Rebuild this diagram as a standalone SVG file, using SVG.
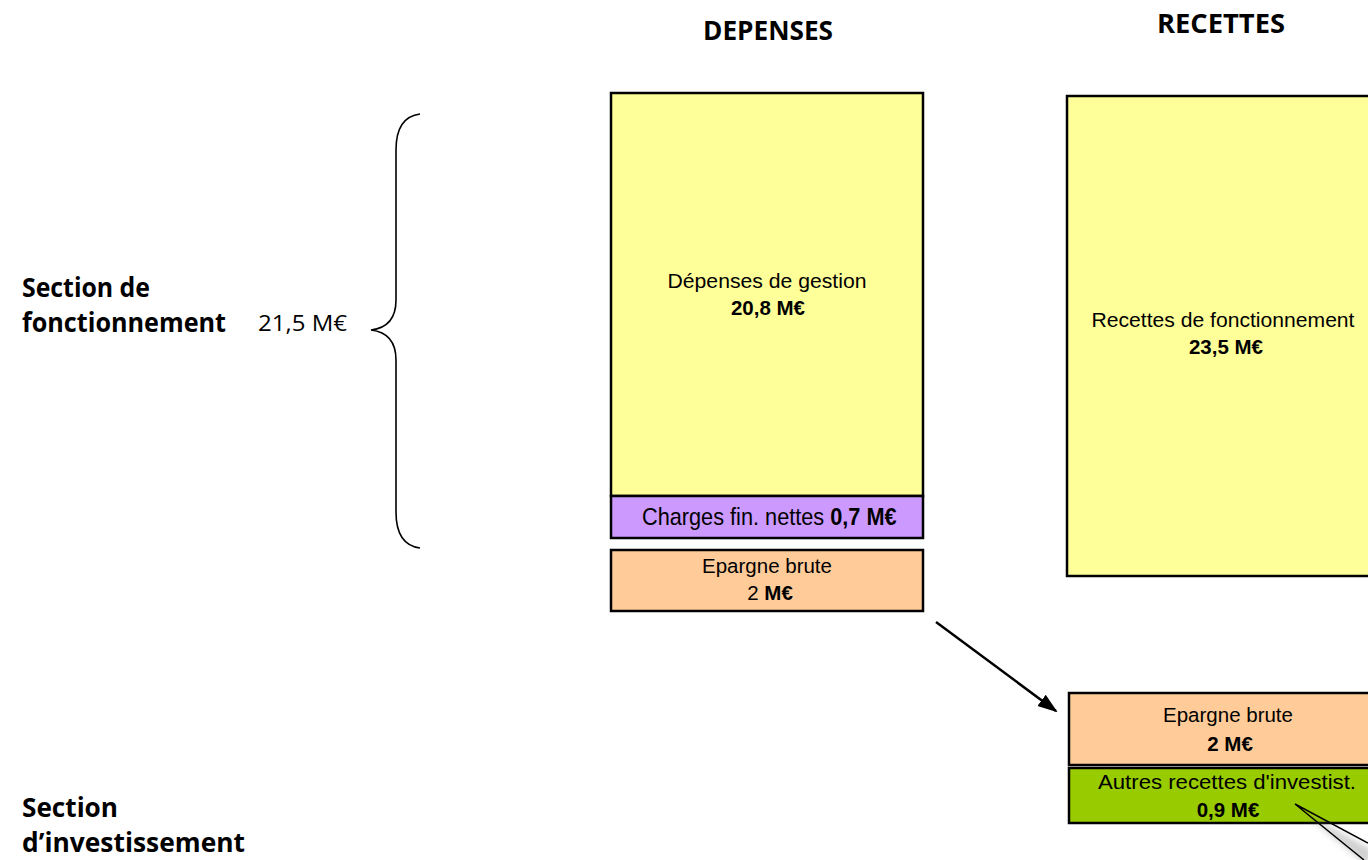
<svg xmlns="http://www.w3.org/2000/svg" width="1368" height="860" viewBox="0 0 1368 860">
<style>
.hd{font-family:"Open Sans","Liberation Sans",sans-serif;font-weight:bold;font-size:27px;fill:#000;text-anchor:middle}
.sec{font-family:"Open Sans","Liberation Sans",sans-serif;font-weight:bold;font-size:26px;fill:#000}
.box{stroke:#000;stroke-width:2.5}
.t{font-family:"Liberation Sans",Arial,sans-serif;font-size:20.5px;fill:#000;text-anchor:middle}
.ts{font-family:"Liberation Sans",Arial,sans-serif;font-size:24px;fill:#000}
.b{font-weight:bold}
.ln{stroke:#000;stroke-width:2.5;fill:none}
</style>
<defs>
<marker id="ah" markerWidth="20" markerHeight="16" refX="18" refY="7" orient="auto" markerUnits="userSpaceOnUse" viewBox="0 0 20 14">
<path d="M0,0 L20,7 L0,14 z" fill="#000"/>
</marker>
<filter id="sh" x="-30%" y="-30%" width="160%" height="160%"><feGaussianBlur stdDeviation="3"/></filter>
</defs>
<rect width="1368" height="860" fill="#fff"/>
<g id="headers">
<text class="hd" x="768" y="40" textLength="130" lengthAdjust="spacingAndGlyphs">DEPENSES</text>
<text class="hd" x="1221" y="33" textLength="128" lengthAdjust="spacingAndGlyphs">RECETTES</text>
</g>
<g id="section-fonctionnement">
<text class="sec" x="22" y="297" textLength="128" lengthAdjust="spacingAndGlyphs">Section de</text>
<text class="sec" x="22" y="332" textLength="204" lengthAdjust="spacingAndGlyphs">fonctionnement</text>
<text x="258" y="331" textLength="89" lengthAdjust="spacingAndGlyphs" style="font-family:'Open Sans','Liberation Sans',sans-serif;font-size:22px;fill:#000">21,5 M€</text>
<path d="M420,114 C404,116 396,128 396,150 L396,300 C396,318 388,328 371,330 C388,332 396,342 396,360 L396,512 C396,534 404,546 420,548" fill="none" stroke="#000" stroke-width="1.6"/>
</g>
<g id="section-investissement">
<text class="sec" x="22" y="817" textLength="96" lengthAdjust="spacingAndGlyphs">Section</text>
<text class="sec" x="22" y="852" textLength="223" lengthAdjust="spacingAndGlyphs">d’investissement</text>
</g>
<g id="depenses-gestion">
<rect class="box" x="611" y="93" width="312" height="403" fill="#FFFF99"/>
<text class="t" x="767" y="288" textLength="199" lengthAdjust="spacingAndGlyphs">Dépenses de gestion</text>
<text class="t b" x="768" y="315">20,8 M€</text>
</g>
<g id="charges-fin">
<rect class="box" x="611" y="496" width="312" height="42" fill="#CC99FF"/>
<text class="ts" transform="translate(642,525) scale(0.905,1)" x="0" y="0">Charges fin. nettes <tspan class="b">0,7 M€</tspan></text>
</g>
<g id="epargne-brute-dep">
<rect class="box" x="611" y="550" width="312" height="61" fill="#FFCC99"/>
<text class="t" x="767" y="573">Epargne brute</text>
<text class="t" x="770" y="600">2 <tspan class="b">M€</tspan></text>
</g>
<g id="recettes-fonctionnement">
<rect class="box" x="1067" y="96" width="312" height="480" fill="#FFFF99"/>
<text class="t" x="1223" y="327" textLength="263" lengthAdjust="spacingAndGlyphs">Recettes de fonctionnement</text>
<text class="t b" x="1226" y="354">23,5 M€</text>
</g>
<g id="epargne-brute-rec">
<rect class="box" x="1069" y="693" width="312" height="72" fill="#FFCC99"/>
<text class="t" x="1228" y="722">Epargne brute</text>
<text class="t b" x="1230" y="751">2 M€</text>
</g>
<g id="autres-recettes">
<rect class="box" x="1069" y="768" width="312" height="55" fill="#99CC00"/>
<text class="t" x="1227" y="789" textLength="258" lengthAdjust="spacingAndGlyphs">Autres recettes d'investist.</text>
<text class="t b" x="1228" y="817">0,9 M€</text>
</g>
<g id="connectors">
<line class="ln" x1="936" y1="622" x2="1056" y2="711" marker-end="url(#ah)"/>
<path d="M1300,810 L1372,850 L1368,866 z" fill="#777" opacity="0.35" filter="url(#sh)"/>
<path d="M1295,804 L1368,843 M1295,804 L1364,860" stroke="#000" stroke-width="1.5" fill="none"/>
</g>
</svg>
